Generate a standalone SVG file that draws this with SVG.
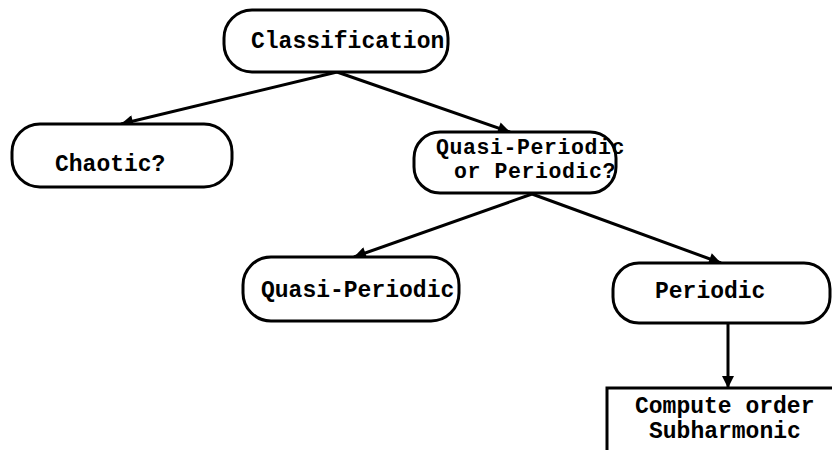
<svg xmlns="http://www.w3.org/2000/svg" width="832" height="450" viewBox="0 0 832 450">
  <style>
    .box { fill: #fff; stroke: #000; stroke-width: 3; }
    .lbl { font-family: "Liberation Mono", "DejaVu Sans Mono", monospace; font-weight: bold; font-size: 23px; fill: #000; }
    .two { font-size: 21.5px; letter-spacing: 0.6px; }
    .edge { stroke: #000; stroke-width: 3; fill: none; marker-end: url(#arrow); }
  </style>
  <defs>
    <marker id="arrow" viewBox="0 0 10 10" refX="10" refY="5" markerWidth="5" markerHeight="4" markerUnits="strokeWidth" orient="auto">
      <path d="M0,0 L10,5 L0,10 z" fill="#000"/>
    </marker>
  </defs>
  <rect width="832" height="450" fill="#fff"/>

  <g id="connectors">
    <line class="edge" x1="337" y1="72" x2="121" y2="124"/>
    <line class="edge" x1="337" y1="72" x2="510" y2="132"/>
    <line class="edge" x1="532" y1="194" x2="354" y2="257"/>
    <line class="edge" x1="532" y1="194" x2="721" y2="263"/>
    <line class="edge" x1="728" y1="323" x2="728" y2="388"/>
  </g>

  <g id="classification">
    <rect class="box" x="224" y="10" width="224" height="62" rx="28"/>
    <text class="lbl" x="251" y="48">Classification</text>
  </g>

  <g id="chaotic">
    <rect class="box" x="12" y="124" width="220" height="63" rx="28"/>
    <text class="lbl" x="55" y="171">Chaotic?</text>
  </g>

  <g id="quasi-or-periodic">
    <rect class="box" x="414" y="132" width="202" height="61" rx="26"/>
    <text class="lbl two" x="436" y="154">Quasi-Periodic</text>
    <text class="lbl two" x="454" y="178">or Periodic?</text>
  </g>

  <g id="quasi-periodic">
    <rect class="box" x="243" y="257" width="216" height="64" rx="28"/>
    <text class="lbl" x="261" y="297">Quasi-Periodic</text>
  </g>

  <g id="periodic">
    <rect class="box" x="613" y="263" width="217" height="60" rx="26"/>
    <text class="lbl" x="655" y="298">Periodic</text>
  </g>

  <g id="subharmonic">
    <rect class="box" x="607" y="388" width="230" height="70"/>
    <text class="lbl" x="635" y="413">Compute order</text>
    <text class="lbl" x="649" y="438">Subharmonic</text>
  </g>
</svg>
